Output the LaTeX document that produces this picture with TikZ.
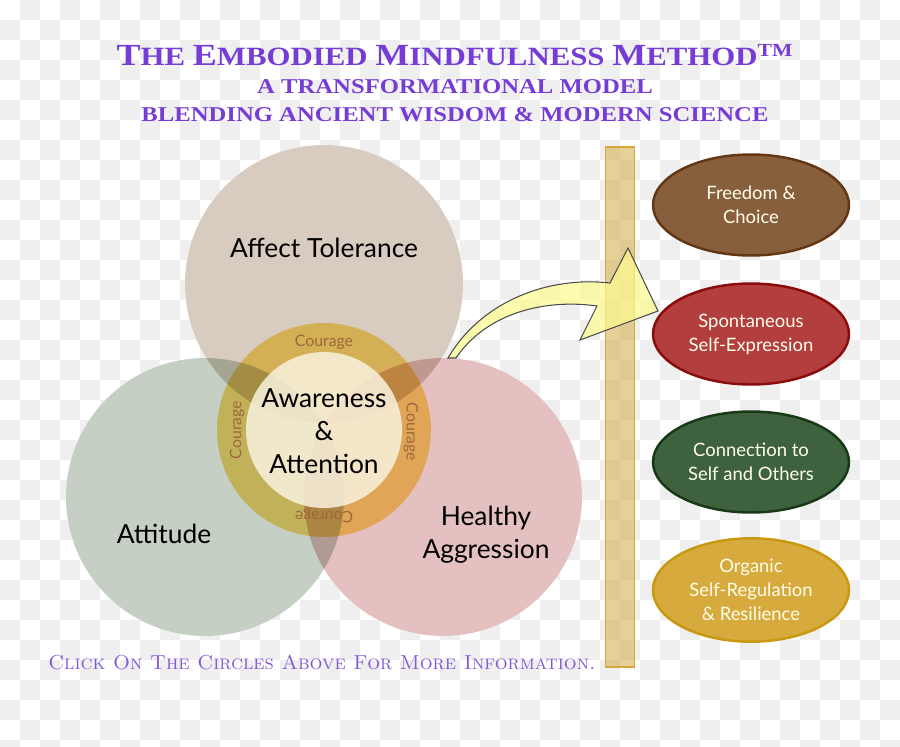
\documentclass[tikz,border=0pt]{standalone}
\usepackage{fontspec}
\setsansfont{Lato}
\newfontfamily\titlefont[FakeStretch=1.17]{Liberation Serif}
\usetikzlibrary{shapes.geometric}
\definecolor{titlePurple}{RGB}{118, 60, 214}
\definecolor{notePurple}{RGB}{130, 88, 216}
\definecolor{checkGrey}{RGB}{239, 239, 239}
\definecolor{affectTan}{RGB}{216, 203, 191}
\definecolor{attitudeSage}{RGB}{197, 207, 196}
\definecolor{aggressRose}{RGB}{229, 192, 193}
\definecolor{courageGold}{RGB}{250, 220, 116}
\definecolor{awareCream}{RGB}{249, 242, 223}
\definecolor{courageBrown}{RGB}{158, 104, 58}
\definecolor{barGold}{RGB}{216, 178, 84}
\definecolor{barEdge}{RGB}{212, 168, 58}
\definecolor{arrowYellow}{RGB}{252, 250, 140}
\definecolor{freedomBrown}{RGB}{136, 95, 61}
\definecolor{freedomEdge}{RGB}{100, 55, 20}
\definecolor{spontRed}{RGB}{178, 62, 62}
\definecolor{spontEdge}{RGB}{140, 12, 12}
\definecolor{connectGreen}{RGB}{62, 98, 62}
\definecolor{connectEdge}{RGB}{24, 56, 24}
\definecolor{organicGold}{RGB}{214, 170, 60}
\definecolor{organicEdge}{RGB}{200, 152, 16}
\newcommand\initcap[1]{{\fontsize{17.5}{20}\selectfont #1}}

\begin{document}
\begin{tikzpicture}[
    x=0.02cm, y=-0.02cm,
    venn/.style={circle, inner sep=0pt, minimum size=5.56cm},
    underlay/.style={circle, inner sep=0pt, minimum size=5.56cm, fill=white},
    venntxt/.style={font=\sffamily\fontsize{15}{18.7}\selectfont, text=black, align=center},
    couragetxt/.style={font=\sffamily\fontsize{9}{10}\selectfont, text=courageBrown},
    outcome/.style={ellipse, draw, line width=1.4pt, minimum width=3.92cm, minimum height=2.02cm,
        align=center, text=white!92!yellow, font=\sffamily\fontsize{10.5}{13.6}\selectfont},
    titletxt/.style={font=\titlefont\bfseries\fontsize{15}{18}\selectfont, text=titlePurple},
    bigarrow/.style={fill=arrowYellow, fill opacity=0.7, draw=black!70, line width=0.6pt, line join=miter}
]

    % transparency backdrop
    \useasboundingbox (0,0) rectangle (900,747);
    \begin{scope}
    \clip (0,0) rectangle (900,747);
    \fill[white] (0,0) rectangle (900,747);
    \foreach \i in {0,2,...,44} \foreach \j in {1,3,...,37}
        \fill[checkGrey] (20*\i,20*\j) rectangle ++(20,20);
    \foreach \i in {1,3,...,43} \foreach \j in {0,2,...,36}
        \fill[checkGrey] (20*\i,20*\j) rectangle ++(20,20);
    \end{scope}

    % Title block
    \node[titletxt] (title1) at (455,55)
        {\initcap{T}HE \initcap{E}MBODIED \initcap{M}INDFULNESS \initcap{M}ETHOD\textsuperscript{TM}};
    \node[titletxt, font=\titlefont\bfseries\fontsize{12}{14}\selectfont] (title2) at (455,87) {A TRANSFORMATIONAL MODEL};
    \node[titletxt, font=\titlefont\bfseries\fontsize{12}{14}\selectfont] (title3) at (455,115) {BLENDING ANCIENT WISDOM \& MODERN SCIENCE};

    % Divider bar
    \node[rectangle, draw=barEdge, line width=0.8pt, fill=barGold, fill opacity=0.6,
          minimum width=0.58cm, minimum height=10.4cm, inner sep=0pt] (bar) at (620,407) {};

    % Three overlapping circles (white underlay hides the backdrop)
    \foreach \pos in {(324,284), (205,497), (443,497)}
        \node[underlay] at \pos {};
    \begin{scope}[blend group=multiply]
    \node[venn, fill=affectTan] (affect) at (324,284) {};
    \node[venn, fill=attitudeSage] (attitude) at (205,497) {};
    \node[venn, fill=aggressRose] (aggress) at (443,497) {};
    % Courage ring
    \node[circle, inner sep=0pt, minimum size=4.28cm, fill=courageGold] (ring) at (324,430) {};
    \end{scope}
    \node[circle, inner sep=0pt, minimum size=3.12cm, fill=awareCream, fill opacity=0.85] (core) at (324,430) {};

    \node[couragetxt] (cTop) at (324,342) {Courage};
    \node[couragetxt, rotate=90] (cLeft) at (237,430) {Courage};
    \node[couragetxt, rotate=-90] (cRight) at (411,432) {Courage};
    \node[couragetxt, rotate=180] (cBottom) at (324,516) {Courage};

    % Circle labels
    \node[venntxt] (affectLbl) at (324,248) {Affect Tolerance};
    \node[venntxt] (attitudeLbl) at (164,534) {Attitude};
    \node[venntxt] (aggressLbl) at (486,535) {Healthy\\Aggression};
    \node[venntxt] (coreLbl) at (324,431) {Awareness\\\&\\Attention};

    % Curved block arrow toward the outcomes
    \coordinate (tail) at (448,358);
    \coordinate (tip) at (658,311);
    \draw[bigarrow] (tail) .. controls (482,300) and (550,276) .. (610,283)
        -- (628,248) -- (tip) -- (580,340) -- (597,306)
        .. controls (540,298) and (484,316) .. (456,358) -- cycle;

    % Outcomes
    \node[outcome, fill=freedomBrown, draw=freedomEdge] (freedom) at (751,205) {Freedom \&\\Choice};
    \node[outcome, fill=spontRed, draw=spontEdge] (spont) at (751,334) {Spontaneous\\Self-Expression};
    \node[outcome, fill=connectGreen, draw=connectEdge] (connect) at (751,462) {Connection to\\Self and Others};
    \node[outcome, fill=organicGold, draw=organicEdge] (organic) at (751,590) {Organic\\Self-Regulation\\\& Resilience};

    % Footer note
    \node[font=\fontsize{11.5}{14}\selectfont\scshape, text=notePurple] (note) at (322,662)
        {Click On The Circles Above For More Information.};

\end{tikzpicture}
\end{document}
